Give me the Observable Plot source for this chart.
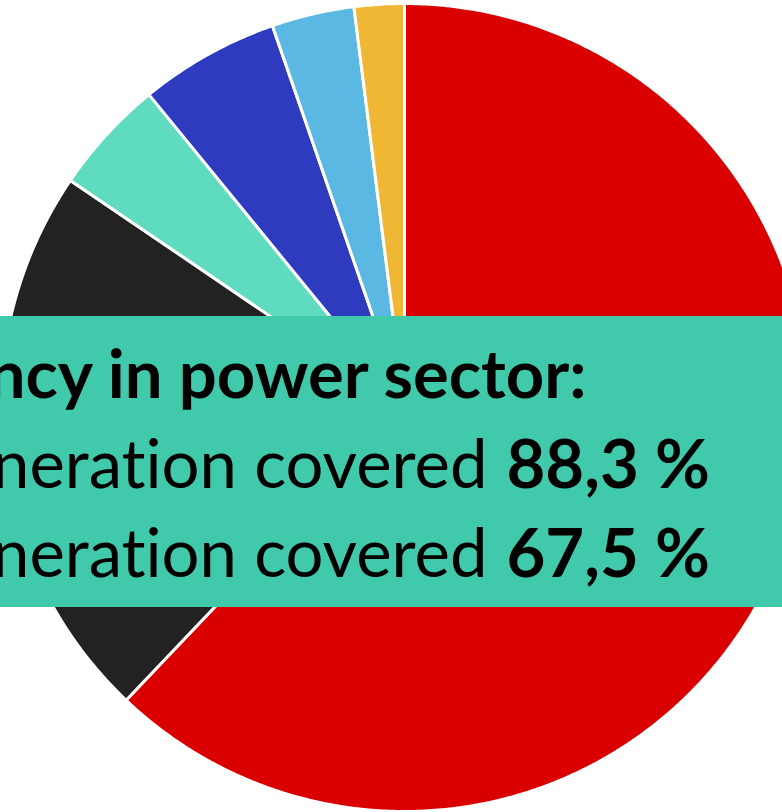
<!DOCTYPE html>
<html>
<head>
<meta charset="utf-8">
<script src="https://cdn.jsdelivr.net/npm/d3@7"></script>
<script src="https://cdn.jsdelivr.net/npm/@observablehq/plot@0.6"></script>
<style>
  html, body { margin: 0; padding: 0; background: #fff; overflow: hidden; }
  #chart svg { display: block; }
  #chart text, #chart tspan { font-variant-ligatures: none; font-feature-settings: "liga" 0, "clig" 0; }
</style>
</head>
<body>
<div id="chart"></div>
<script>
// ---- data (clockwise from 12 o'clock) ----
const categories = ["Red", "Black", "Mint", "Blue", "Light blue", "Yellow"];
const shares = [62.1, 22.4, 4.6, 5.6, 3.3, 2.0];
const colors = ["#da0000", "#222222", "#5fdcbf", "#2e3bbf", "#5ab8e3", "#efb733"];

const headline = "Self-sufficiency in power sector:";
const rowLabels = ["generation covered", "generation covered"];
const rowValues = ["88,3 %", "67,5 %"];

// ---- layout ----
const W = 782, H = 812;
const cx = 404, cy = 407, R = 404;
const box = {x1: 0, x2: 782, y1: 316, y2: 607};

const arcs = d3.pie().sort(null).startAngle(0).endAngle(2 * Math.PI)(shares);
const pts = [];
arcs.forEach((a, i) => {
  const key = categories[i];
  pts.push({key, x: cx, y: cy});
  const n = Math.max(2, Math.ceil((a.endAngle - a.startAngle) / (Math.PI / 360)));
  for (let k = 0; k <= n; k++) {
    const t = a.startAngle + (a.endAngle - a.startAngle) * k / n;
    pts.push({key, x: cx + R * Math.sin(t), y: cy - R * Math.cos(t)});
  }
  pts.push({key, x: cx, y: cy});
});

const lineBase = [397, 487, 576];
const labelRows = rowLabels.map((t, i) => ({t, v: rowValues[i], y: lineBase[i + 1]}));

const plot = Plot.plot({
  width: W, height: H,
  margin: 0,
  x: {domain: [0, W], range: [0, W], axis: null},
  y: {domain: [0, H], range: [0, H], axis: null},
  color: {domain: categories, range: colors},
  style: {fontFamily: "Lato", background: "#fff"},
  marks: [
    Plot.line(pts, {x: "x", y: "y", z: "key", fill: "key", stroke: "white", strokeWidth: 3, strokeLinejoin: "round", curve: "linear"}),
    Plot.rect([box], {x1: "x1", x2: "x2", y1: "y1", y2: "y2", fill: "#40c9aa"}),
    Plot.text([headline], {x: () => 586, y: () => lineBase[0], text: d => d, textAnchor: "end", lineAnchor: "bottom", fontSize: 67, fontWeight: "bold", fill: "#000", fontFamily: "Lato"}),
    Plot.text(labelRows, {x: () => 487, y: "y", text: "t", textAnchor: "end", lineAnchor: "bottom", fontSize: 67, fill: "#000", fontFamily: "Lato"}),
    Plot.text(labelRows, {x: () => 506, y: "y", text: "v", textAnchor: "start", lineAnchor: "bottom", fontSize: 67, fontWeight: "bold", fill: "#000", fontFamily: "Lato"})
  ]
});
document.getElementById("chart").append(plot);
</script>
</body>
</html>
